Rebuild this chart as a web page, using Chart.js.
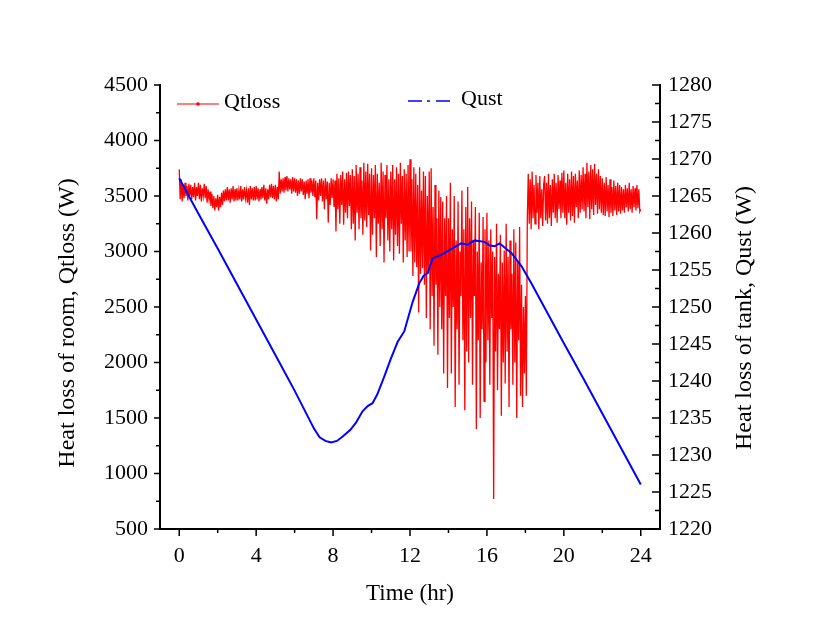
<!DOCTYPE html>
<html lang="en">
<head>
    <meta charset="UTF-8">
    <title>Qtloss / Qust</title>
    <script src="https://cdn.jsdelivr.net/npm/chart.js"></script>
    <style>
        body { margin: 0; background: #fff; }
        canvas { display: block; }
    </style>
</head>
<body>
    <canvas id="heatChart" width="825" height="643"></canvas>

    <script>
        const qtlossStart = 0;
        const qtlossStep = 0.05;
        const qtloss = [
            3740, 3470, 3650, 3450, 3600, 3480, 3620, 3500, 3590, 3460, 3610, 3500, 3600, 3470, 3580, 3490, 3620, 3460, 3580, 3500,
            3620, 3470, 3600, 3450, 3570, 3500, 3610, 3480, 3590, 3440, 3560, 3470, 3540, 3410, 3520, 3390, 3500, 3370, 3480, 3400,
            3510, 3370, 3490, 3400, 3530, 3420, 3550, 3450, 3560, 3460, 3580, 3460, 3560, 3440, 3570, 3470, 3590, 3450, 3560, 3460,
            3570, 3460, 3550, 3470, 3590, 3450, 3560, 3470, 3580, 3480, 3550, 3440, 3570, 3420, 3590, 3470, 3570, 3460, 3580, 3460,
            3590, 3470, 3570, 3450, 3560, 3470, 3580, 3480, 3600, 3460, 3570, 3430, 3560, 3470, 3600, 3490, 3610, 3480, 3590, 3470,
            3600, 3450, 3580, 3470, 3720, 3520, 3650, 3540, 3660, 3530, 3670, 3550, 3680, 3540, 3660, 3560, 3650, 3520, 3670, 3540,
            3660, 3530, 3650, 3500, 3640, 3520, 3660, 3540, 3650, 3510, 3630, 3470, 3640, 3520, 3650, 3480, 3660, 3530, 3640, 3500,
            3660, 3490, 3640, 3290, 3620, 3460, 3650, 3500, 3660, 3450, 3640, 3380, 3660, 3470, 3630, 3260, 3620, 3420, 3660, 3480,
            3650, 3400, 3640, 3180, 3700, 3380, 3660, 3250, 3690, 3420, 3720, 3240, 3650, 3350, 3710, 3300, 3720, 3410, 3690, 3200,
            3740, 3250, 3680, 3100, 3780, 3350, 3700, 3200, 3760, 3300, 3640, 3150, 3800, 3280, 3720, 3220, 3790, 3330, 3700, 3010,
            3750, 3150, 3690, 3300, 3780, 2950, 3700, 3250, 3620, 3050, 3800, 3200, 3720, 2900, 3690, 3300, 3780, 3100, 3650, 3000,
            3720, 3200, 3780, 2920, 3650, 3150, 3760, 3050, 3700, 2980, 3800, 3250, 3680, 2900, 3740, 3100, 3700, 2950, 3780, 3000,
            3830, 3000, 3650, 2780, 3760, 2900, 3700, 2860, 3600, 2450, 3760, 2800, 3550, 2850, 3720, 2700, 3680, 2400, 3500, 2800,
            3720, 2300, 3750, 2600, 3400, 2150, 3600, 2700, 3300, 2070, 3550, 2500, 3490, 2300, 3450, 1900, 3300, 2600, 3500, 1770,
            3300, 2400, 3620, 1900, 3200, 2500, 3500, 1600, 3100, 2300, 3450, 1800, 3000, 2600, 3550, 2200, 3200, 1570, 3400, 2100,
            3580, 2000, 3300, 2400, 3450, 1800, 3100, 2600, 3400, 1400, 3000, 2200, 3350, 1500, 2900, 2300, 3310, 1650, 3200, 2000,
            3350, 2200, 3100, 1800, 3200, 2400, 3000, 770, 2950, 2100, 3250, 1750, 2800, 2300, 3150, 1520, 2900, 2000, 3010, 1810,
            3250, 2100, 2950, 1600, 3100, 2300, 2800, 1800, 3200, 2000, 3080, 1500, 2900, 2200, 3220, 1700, 2700, 1600, 2500, 1900,
            2600, 1700, 3300, 3700, 3250, 3650, 3200, 3720, 3300, 3600, 3250, 3690, 3350, 3620, 3200, 3680, 3300, 3560, 3230, 3600,
            3680, 3280, 3620, 3250, 3700, 3300, 3600, 3230, 3650, 3350, 3700, 3300, 3620, 3260, 3690, 3380, 3640, 3300, 3710, 3350,
            3730, 3300, 3620, 3240, 3700, 3350, 3650, 3280, 3720, 3320, 3680, 3260, 3700, 3400, 3640, 3300, 3730, 3350, 3690, 3380,
            3760, 3360, 3700, 3300, 3800, 3400, 3720, 3290, 3780, 3380, 3740, 3330, 3790, 3420, 3700, 3340, 3740, 3380, 3680, 3350,
            3660, 3330, 3620, 3320, 3670, 3360, 3600, 3310, 3650, 3350, 3580, 3320, 3640, 3370, 3590, 3330, 3620, 3360, 3600, 3340,
            3580, 3370, 3560, 3350, 3600, 3400, 3570, 3360, 3620, 3380, 3560, 3350, 3590, 3400, 3570, 3370, 3600, 3390, 3560, 3360,
            3380
        ];

        const qustHours = [0, 1, 2, 3, 4, 5, 6, 7, 7.3, 7.6, 7.9, 8.2, 8.5, 8.9, 9.2, 9.53, 9.8,
            10.05, 10.3, 10.66, 11, 11.36, 11.7, 12.14, 12.48, 12.7, 12.92, 13.18, 13.6, 14.05,
            14.66, 15, 15.35, 15.87, 16.15, 16.4, 16.66, 17.27, 17.8, 18.31, 19, 20, 21, 22, 23, 24];
        const qust = [1267.4, 1262.6, 1257.9, 1253.1, 1248.3, 1243.5, 1238.7, 1233.6, 1232.4, 1231.9,
            1231.7, 1231.9, 1232.5, 1233.4, 1234.4, 1235.9, 1236.6, 1237.0, 1238.2, 1240.6, 1243.0,
            1245.3, 1246.7, 1250.7, 1253.2, 1254.2, 1254.6, 1256.6, 1257.0, 1257.7, 1258.6, 1258.4,
            1259.0, 1258.8, 1258.3, 1258.2, 1258.6, 1257.3, 1255.5, 1253.2, 1249.9, 1245.1, 1240.4,
            1235.6, 1230.8, 1226.0];

        const xMajorTicks = [0, 4, 8, 12, 16, 20, 24];
        const xMinorTicks = [2, 6, 10, 14, 18, 22];
        const leftMajorTicks = [500, 1000, 1500, 2000, 2500, 3000, 3500, 4000, 4500];
        const leftMinorTicks = [750, 1250, 1750, 2250, 2750, 3250, 3750, 4250];
        const rightMajorTicks = [1220, 1225, 1230, 1235, 1240, 1245, 1250, 1255, 1260, 1265, 1270, 1275, 1280];
        const rightMinorTicks = [1222.5, 1227.5, 1232.5, 1237.5, 1242.5, 1247.5, 1252.5, 1257.5, 1262.5, 1267.5, 1272.5, 1277.5];

        const leftTitle = 'Heat loss of room, Qtloss (W)';
        const rightTitle = 'Heat loss of tank, Qust (W)';

        const FONT = '"Liberation Serif", "Times New Roman", serif';

        // ticks (major/minor), vertical axis titles and the in-plot legend
        const axisDecor = {
            id: 'axisDecor',
            afterDraw(chart) {
                const ctx = chart.ctx;
                const a = chart.chartArea;
                const sx = chart.scales.x, sy = chart.scales.y, sy1 = chart.scales.y1;
                ctx.save();
                ctx.strokeStyle = '#000';
                ctx.lineWidth = 1.5;
                ctx.beginPath();
                xMajorTicks.forEach(v => { const p = sx.getPixelForValue(v); ctx.moveTo(p, a.bottom); ctx.lineTo(p, a.bottom + 7); });
                xMinorTicks.forEach(v => { const p = sx.getPixelForValue(v); ctx.moveTo(p, a.bottom); ctx.lineTo(p, a.bottom + 4); });
                leftMajorTicks.forEach(v => { const p = sy.getPixelForValue(v); ctx.moveTo(a.left, p); ctx.lineTo(a.left - 6, p); });
                leftMinorTicks.forEach(v => { const p = sy.getPixelForValue(v); ctx.moveTo(a.left, p); ctx.lineTo(a.left - 4, p); });
                rightMajorTicks.forEach(v => { const p = sy1.getPixelForValue(v); ctx.moveTo(a.right, p); ctx.lineTo(a.right - 8, p); });
                rightMinorTicks.forEach(v => { const p = sy1.getPixelForValue(v); ctx.moveTo(a.right, p); ctx.lineTo(a.right - 5, p); });
                ctx.stroke();

                // axis titles, both reading bottom to top
                ctx.fillStyle = '#000';
                ctx.font = '24px ' + FONT;
                ctx.textAlign = 'center';
                ctx.textBaseline = 'middle';
                ctx.save();
                ctx.translate(68, 323);
                ctx.rotate(-Math.PI / 2);
                ctx.fillText(leftTitle, 0, 0);
                ctx.restore();
                ctx.save();
                ctx.translate(745, 318);
                ctx.rotate(-Math.PI / 2);
                ctx.fillText(rightTitle, 0, 0);
                ctx.restore();

                // legend
                const dsLoss = chart.data.datasets.find(d => d.label === 'Qtloss');
                const dsUst = chart.data.datasets.find(d => d.label === 'Qust');
                ctx.font = '22px ' + FONT;
                ctx.textAlign = 'left';

                ctx.strokeStyle = dsLoss.borderColor;
                ctx.lineWidth = 1;
                ctx.beginPath();
                ctx.moveTo(a.left + 17, 104);
                ctx.lineTo(a.left + 59, 104);
                ctx.stroke();
                ctx.fillStyle = dsLoss.borderColor;
                ctx.beginPath();
                ctx.arc(a.left + 38, 104, 1.8, 0, Math.PI * 2);
                ctx.fill();
                ctx.fillStyle = '#000';
                ctx.fillText(dsLoss.label, a.left + 64, 102);

                ctx.strokeStyle = dsUst.borderColor;
                ctx.lineWidth = 1.5;
                ctx.setLineDash([14, 5, 3, 6]);
                ctx.beginPath();
                ctx.moveTo(a.left + 248, 101);
                ctx.lineTo(a.left + 292, 101);
                ctx.stroke();
                ctx.setLineDash([]);
                ctx.fillStyle = '#000';
                ctx.fillText(dsUst.label, a.left + 301, 99);
                ctx.restore();
            }
        };

        const plain = v => String(v);

        const ctx = document.getElementById('heatChart').getContext('2d');
        new Chart(ctx, {
            type: 'line',
            data: {
                datasets: [
                    {
                        label: 'Qtloss',
                        data: qtloss.map((v, i) => ({ x: qtlossStart + i * qtlossStep, y: v })),
                        yAxisID: 'y',
                        borderColor: '#ff0000',
                        borderWidth: 1.3,
                        pointRadius: 0,
                        tension: 0,
                        order: 1
                    },
                    {
                        label: 'Qust',
                        data: qustHours.map((h, i) => ({ x: h, y: qust[i] })),
                        yAxisID: 'y1',
                        borderColor: '#0000ff',
                        borderWidth: 2,
                        pointRadius: 0,
                        tension: 0,
                        order: 0
                    }
                ]
            },
            options: {
                responsive: false,
                animation: false,
                layout: { padding: { top: 85, left: 0, right: 0, bottom: 0 } },
                plugins: { legend: { display: false }, tooltip: { enabled: false } },
                scales: {
                    x: {
                        type: 'linear',
                        min: -1,
                        max: 25,
                        afterBuildTicks: s => { s.ticks = xMajorTicks.map(v => ({ value: v })); },
                        afterFit: s => { s.height = 114; },
                        grid: { drawOnChartArea: false, drawTicks: false },
                        border: { display: true, color: '#000', width: 2 },
                        ticks: { color: '#000', padding: 14, maxRotation: 0, callback: plain, font: { family: FONT, size: 22 } },
                        title: { display: true, text: 'Time (hr)', color: '#000', padding: { bottom: 35 }, font: { family: FONT, size: 23 } }
                    },
                    y: {
                        type: 'linear',
                        position: 'left',
                        min: 500,
                        max: 4500,
                        afterBuildTicks: s => { s.ticks = leftMajorTicks.map(v => ({ value: v })); },
                        afterFit: s => { s.width = 160; },
                        grid: { drawOnChartArea: false, drawTicks: false },
                        border: { display: true, color: '#000', width: 2 },
                        ticks: { color: '#000', padding: 12, callback: plain, font: { family: FONT, size: 22 } }
                    },
                    y1: {
                        type: 'linear',
                        position: 'right',
                        min: 1220,
                        max: 1280,
                        afterBuildTicks: s => { s.ticks = rightMajorTicks.map(v => ({ value: v })); },
                        afterFit: s => { s.width = 165; },
                        grid: { drawOnChartArea: false, drawTicks: false },
                        border: { display: true, color: '#000', width: 2 },
                        ticks: { color: '#000', padding: 8, callback: plain, font: { family: FONT, size: 22 } }
                    }
                }
            },
            plugins: [axisDecor]
        });
    </script>
</body>
</html>
